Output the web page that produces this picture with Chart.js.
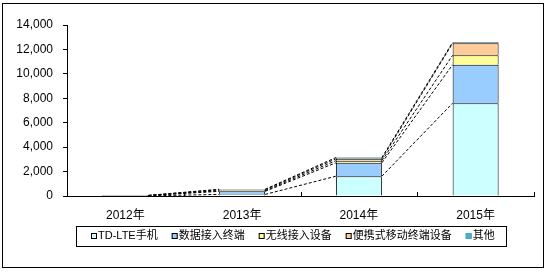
<!DOCTYPE html>
<html>
<head>
<meta charset="utf-8">
<script src="https://cdn.jsdelivr.net/npm/chart.js@4.4.0/dist/chart.umd.min.js"></script>
<style>
  html, body { margin: 0; padding: 0; background: #fff; }
  #wrap { width: 548px; height: 272px; position: relative; }
</style>
</head>
<body>
<div id="wrap"><canvas id="chart" width="548" height="272"></canvas></div>
<script>
const years = ["2012年", "2013年", "2014年", "2015年"];
const seriesNames = ["TD-LTE手机", "数据接入终端", "无线接入设备", "便携式移动终端设备", "其他"];
const tdLtePhone = [10, 130, 1620, 7600];
const dataTerminal = [25, 250, 1100, 3150];
const wirelessDevice = [5, 60, 170, 770];
const portableDevice = [5, 80, 150, 980];
const others = [5, 30, 110, 80];
const yTicks = [0, 2000, 4000, 6000, 8000, 10000, 12000, 14000];

const fills = ["#ccffff", "#99ccff", "#ffff99", "#ffcc99", "#4bacc6"];
const FONT = '"Liberation Sans", "Noto Sans CJK SC", sans-serif';

const allSeries = [tdLtePhone, dataTerminal, wirelessDevice, portableDevice, others];

// frame, series lines, inner x ticks and boxed legend
const extras = {
    id: "extras",
    afterDatasetsDraw(chart) {
        const ctx = chart.ctx;
        const x = chart.scales.x;
        const area = chart.chartArea;
        ctx.save();

        // dashed series lines between stack tops
        ctx.strokeStyle = "#000";
        ctx.lineWidth = 1;
        ctx.setLineDash([3, 2]);
        chart.data.datasets.forEach((ds, d) => {
            const bars = chart.getDatasetMeta(d).data;
            for (let i = 0; i < bars.length - 1; i++) {
                const a = bars[i], b = bars[i + 1];
                ctx.beginPath();
                ctx.moveTo(a.x + a.width / 2, a.y);
                ctx.lineTo(b.x - b.width / 2, b.y);
                ctx.stroke();
            }
        });
        ctx.setLineDash([]);

        // small ticks on x axis between categories, pointing up
        const half = (x.getPixelForValue(1) - x.getPixelForValue(0)) / 2;
        for (let i = 0; i < years.length; i++) {
            const px = Math.round(x.getPixelForValue(i) + half) + 0.5;
            ctx.beginPath();
            ctx.moveTo(px, area.bottom);
            ctx.lineTo(px, area.bottom - 4);
            ctx.stroke();
        }

        // outer frame
        ctx.strokeRect(2.5, 3.5, 541, 264);

        // legend
        ctx.strokeRect(76.5, 226.5, 430, 20);
        ctx.font = "11px " + FONT;
        ctx.textBaseline = "middle";
        ctx.textAlign = "left";
        let lx = 91;
        const ly = 236;
        chart.data.datasets.forEach((ds, d) => {
            ctx.fillStyle = ds.backgroundColor;
            ctx.fillRect(lx, ly - 3, 6, 6);
            ctx.strokeStyle = d === 4 ? ds.backgroundColor : "#000";
            ctx.strokeRect(lx + 0.5, ly - 2.5, 5, 5);
            ctx.fillStyle = "#000";
            ctx.fillText(ds.label, lx + 7, ly);
            lx += 7 + ctx.measureText(ds.label).width + 14;
        });
        ctx.restore();
    }
};

new Chart(document.getElementById("chart"), {
    type: "bar",
    data: {
        labels: years,
        datasets: seriesNames.map((name, i) => ({
            label: name,
            data: allSeries[i],
            backgroundColor: fills[i],
            borderColor: "#000",
            borderWidth: 1,
            borderSkipped: "start",
            categoryPercentage: 1,
            barPercentage: 0.394
        }))
    },
    options: {
        responsive: false,
        animation: false,
        devicePixelRatio: 1,
        layout: { padding: { left: 0, right: 14, top: 25, bottom: 46 } },
        plugins: { legend: { display: false }, tooltip: { enabled: false } },
        scales: {
            x: {
                stacked: true,
                grid: { display: false },
                border: { display: true, color: "#000", width: 1 },
                ticks: { color: "#000", font: { family: FONT, size: 12 }, padding: 4 },
                afterFit: s => { s.height = 30; }
            },
            y: {
                stacked: true,
                min: 0,
                max: 14000,
                afterBuildTicks: s => { s.ticks = yTicks.map(v => ({ value: v })); },
                grid: { drawOnChartArea: false, drawTicks: true, tickLength: 4, color: "#000" },
                border: { display: true, color: "#000", width: 1 },
                ticks: {
                    color: "#000",
                    padding: 10,
                    font: { family: FONT, size: 12 },
                    callback: v => v.toLocaleString("en-US")
                },
                afterFit: s => { s.width = 67; }
            }
        }
    },
    plugins: [extras]
});
</script>
</body>
</html>
